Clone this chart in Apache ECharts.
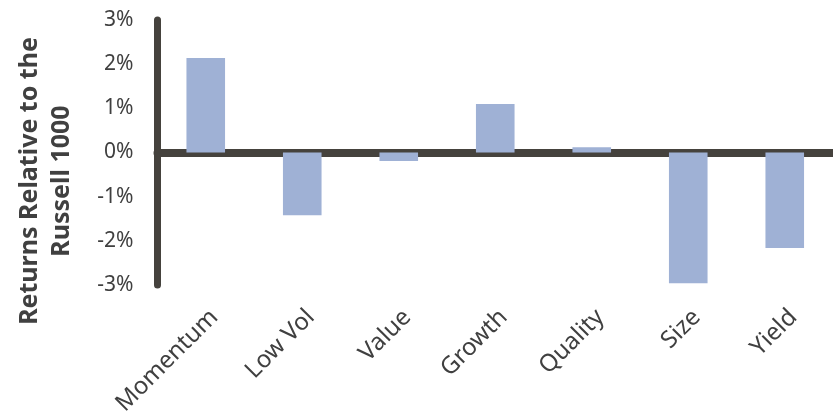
<!DOCTYPE html>
<html>
<head>
<meta charset="utf-8">
<script src="https://cdn.jsdelivr.net/npm/echarts@6/dist/echarts.min.js"></script>
<style>
  html, body { margin: 0; padding: 0; background: #fff; }
  #chart { width: 833px; height: 415px; }
</style>
</head>
<body>
<div id="chart"></div>
<script>
// factor returns vs Russell 1000 (%)
var categories = ['Momentum', 'Low Vol', 'Value', 'Growth', 'Quality', 'Size', 'Yield']
var relReturns = [2.14, -1.42, -0.19, 1.1, 0.12, -2.96, -2.16]
var yTicks = [-3, -2, -1, 0, 1, 2, 3]
var yTitle = 'Returns Relative to the\nRussell 1000'

var textColor = '#404040'
var axisColor = '#45423d'

var chart = echarts.init(document.getElementById('chart'))
chart.setOption({
  backgroundColor: '#fff',
  animation: false,
  grid: { left: 157.5, right: 0, top: 20, bottom: 130, outerBoundsMode: 'none' },
  xAxis: {
    type: 'category',
    data: categories,
    axisLine: { onZero: true, lineStyle: { color: axisColor, width: 8 } },
    axisTick: { show: false },
    axisLabel: {
      rotate: 45,
      interval: 0,
      margin: 20,
      verticalAlign: 'top',
      fontFamily: 'Noto Sans',
      fontSize: 24,
      color: textColor
    }
  },
  yAxis: {
    type: 'value',
    min: yTicks[0],
    max: yTicks[yTicks.length - 1],
    interval: 1,
    axisLine: { show: true, lineStyle: { color: axisColor, width: 7 } },
    axisTick: { show: false },
    splitLine: { show: false },
    axisLabel: {
      margin: 24,
      fontFamily: 'Noto Sans',
      fontSize: 21,
      color: textColor,
      formatter: function (v) { return v + '%' }
    }
  },
  graphic: [{
    type: 'text',
    x: 46,
    y: 181,
    rotation: Math.PI / 2,
    style: {
      text: yTitle,
      align: 'center',
      verticalAlign: 'middle',
      fontFamily: 'Noto Sans',
      fontSize: 25,
      fontWeight: 'bold',
      lineHeight: 32,
      fill: textColor
    }
  }],
  series: [{
    type: 'bar',
    data: relReturns,
    barWidth: '40%',
    itemStyle: { color: '#9fb1d5' }
  }]
})
</script>
</body>
</html>
